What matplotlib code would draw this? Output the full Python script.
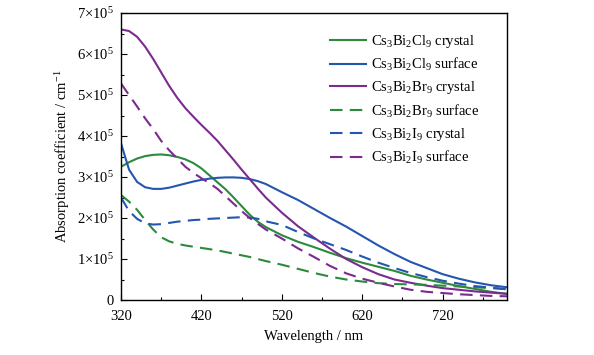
import matplotlib
matplotlib.use("Agg")
import matplotlib.pyplot as plt
from matplotlib.ticker import MultipleLocator, FixedLocator, FuncFormatter

plt.rcParams['font.family'] = ['Liberation Serif', 'DejaVu Serif']
plt.rcParams['mathtext.fontset'] = 'custom'
plt.rcParams['mathtext.rm'] = 'Liberation Serif'
plt.rcParams['mathtext.it'] = 'Liberation Serif:italic'
plt.rcParams['mathtext.bf'] = 'Liberation Serif:bold'

wavelength = [320, 330, 340, 350, 360, 370, 380, 390, 400, 410, 420, 430, 440, 450,
              460, 470, 480, 490, 500, 520, 540, 560, 580, 600, 620, 640, 660, 680,
              700, 720, 740, 760, 780, 800]

cl_crystal = [3.25, 3.36, 3.45, 3.51, 3.54, 3.55, 3.53, 3.49, 3.43, 3.34, 3.21, 3.04,
              2.87, 2.70, 2.50, 2.29, 2.08, 1.91, 1.78, 1.58, 1.42, 1.29, 1.15, 1.02,
              0.91, 0.81, 0.71, 0.59, 0.50, 0.42, 0.34, 0.27, 0.20, 0.15]
cl_surface = [3.82, 3.18, 2.88, 2.75, 2.71, 2.71, 2.74, 2.79, 2.84, 2.89, 2.93, 2.96,
              2.98, 2.99, 2.99, 2.98, 2.95, 2.90, 2.83, 2.63, 2.44, 2.22, 2.00, 1.79,
              1.56, 1.33, 1.12, 0.93, 0.78, 0.63, 0.52, 0.43, 0.36, 0.31]
br_crystal = [6.60, 6.56, 6.42, 6.18, 5.88, 5.55, 5.22, 4.93, 4.68, 4.47, 4.27, 4.08,
              3.88, 3.65, 3.42, 3.18, 2.95, 2.72, 2.50, 2.13, 1.80, 1.52, 1.25, 1.00,
              0.80, 0.63, 0.50, 0.42, 0.35, 0.29, 0.25, 0.21, 0.18, 0.15]
br_surface = [2.56, 2.40, 2.20, 1.95, 1.72, 1.53, 1.43, 1.37, 1.33, 1.30, 1.27, 1.24,
              1.21, 1.17, 1.13, 1.09, 1.05, 1.00, 0.95, 0.86, 0.76, 0.66, 0.57, 0.50,
              0.45, 0.41, 0.39, 0.38, 0.37, 0.35, 0.33, 0.31, 0.29, 0.27]
i_crystal = [2.50, 2.17, 1.98, 1.87, 1.84, 1.85, 1.88, 1.91, 1.93, 1.95, 1.96, 1.98,
             1.99, 2.00, 2.01, 2.02, 2.01, 1.98, 1.92, 1.83, 1.66, 1.50, 1.36, 1.22,
             1.06, 0.91, 0.78, 0.66, 0.56, 0.47, 0.40, 0.34, 0.30, 0.26]
i_surface = [5.28, 5.00, 4.72, 4.43, 4.17, 3.88, 3.65, 3.45, 3.25, 3.10, 2.97, 2.85,
             2.71, 2.53, 2.35, 2.17, 2.00, 1.86, 1.72, 1.50, 1.26, 1.05, 0.83, 0.65,
             0.52, 0.42, 0.33, 0.25, 0.20, 0.17, 0.14, 0.12, 0.10, 0.09]

labels = [r'Cs$_3$Bi$_2$Cl$_9$ crystal', r'Cs$_3$Bi$_2$Cl$_9$ surface',
          r'Cs$_3$Bi$_2$Br$_9$ crystal', r'Cs$_3$Bi$_2$Br$_9$ surface',
          r'Cs$_3$Bi$_2$I$_9$ crystal', r'Cs$_3$Bi$_2$I$_9$ surface']
series = [cl_crystal, cl_surface, br_crystal, br_surface, i_crystal, i_surface]

x_major = [320, 420, 520, 620, 720]
x_minor = [370, 470, 570, 670, 770]

GREEN = '#2b8a3e'
BLUE = '#2456b0'
PURPLE = '#7b2a8e'
colors = [GREEN, BLUE, PURPLE, GREEN, BLUE, PURPLE]
styles = ['-', '-', '-', '--', '--', '--']

fig = plt.figure(figsize=(5.94, 3.55), dpi=100)
ax = fig.add_axes([121/594, 1-300/355, (507-121)/594, (300-13)/355])

for vals, lab, c, ls in zip(series, labels, colors, styles):
    line, = ax.plot(wavelength, [v*1e5 for v in vals], color=c, lw=1.5, ls=ls, label=lab)
    if ls == '--':
        line.set_dashes((6, 3.5))

ax.set_xlim(320, 800)
ax.set_ylim(0, 7e5)
ax.xaxis.set_major_locator(FixedLocator(x_major))
ax.xaxis.set_minor_locator(FixedLocator(x_minor))
ax.yaxis.set_major_locator(MultipleLocator(1e5))
ax.yaxis.set_minor_locator(MultipleLocator(0.5e5))

def yfmt(v, pos):
    n = int(round(v / 1e5))
    if n == 0:
        return '0'
    return r'$%d{\times}10^{5}$' % n

ax.yaxis.set_major_formatter(FuncFormatter(yfmt))
ax.tick_params(which='both', direction='in', top=False, right=False, labelsize=10.5)
ax.tick_params(which='major', length=4, width=0.8)
ax.tick_params(which='minor', length=2.5, width=0.8)
ax.tick_params(axis='x', which='major', pad=7)
ax.tick_params(axis='y', which='major', pad=5)
for s in ax.spines.values():
    s.set_linewidth(1.0)

ax.set_xlabel('Wavelength / nm', fontsize=10.5, labelpad=5)
ax.set_ylabel(r'Absorption coefficient / cm$^{-1}$', fontsize=10.5, labelpad=4)

leg = ax.legend(loc='upper left', bbox_to_anchor=(330/594, 1-33/355),
                bbox_transform=fig.transFigure, frameon=False, fontsize=10.5,
                handlelength=2.5, handletextpad=0.3, labelspacing=0.42,
                borderpad=0, borderaxespad=0)

fig.savefig('out.png', dpi=100)
